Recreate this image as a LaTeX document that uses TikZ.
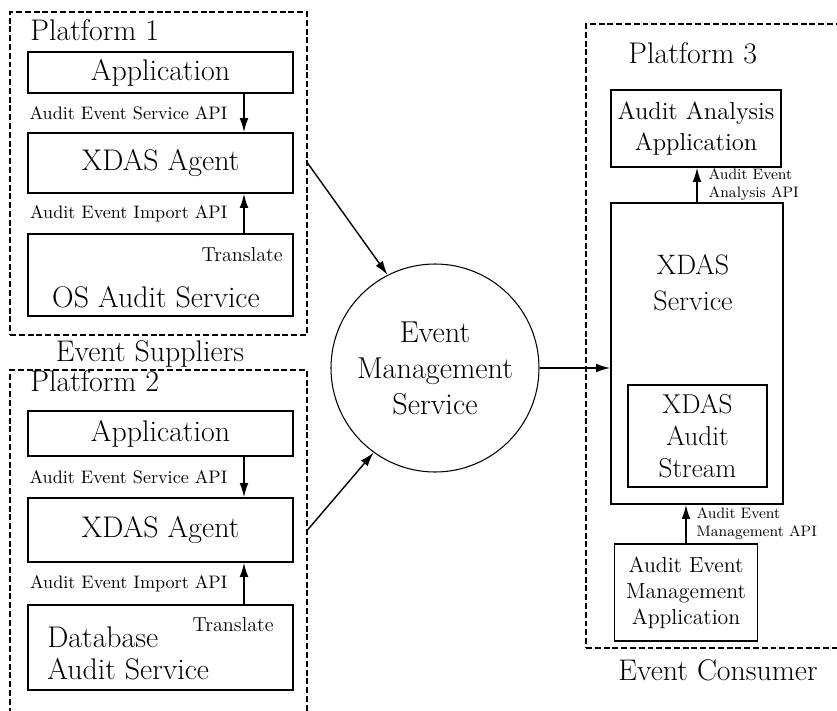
\documentclass[tikz,border=0pt]{standalone}
\usetikzlibrary{arrows.meta}

\newcommand{\bigfont}{\fontsize{17}{20.5}\selectfont}
\newcommand{\midfont}{\fontsize{14}{17.6}\selectfont}
\newcommand{\apifont}{\fontsize{10.3}{12}\selectfont}
\newcommand{\tinyapifont}{\fontsize{8.6}{10.2}\selectfont}
\newcommand{\xlatefont}{\fontsize{11.5}{13}\selectfont}

\begin{document}
\begin{tikzpicture}[
    platform/.style={draw, dash pattern=on 3.4pt off 1.6pt, line width=0.6pt, inner sep=0pt},
    box/.style={draw, line width=1pt, inner sep=0pt, align=center, font=\bigfont},
    title/.style={inner sep=0pt, font=\bigfont},
    api/.style={inner sep=0pt, align=left, font=\apifont},
    flow/.style={-{Latex[length=8pt,width=5pt]}, line width=0.8pt}]

    \clip (0,0) rectangle (16.74,-14.2);

    % dashed platform frames
    \node[platform, minimum width=5.94cm, minimum height=6.46cm] (plat1) at (3.17,-3.47) {};
    \node[platform, minimum width=5.94cm, minimum height=7.2cm] (plat2) at (3.17,-11.0) {};
    \node[platform, minimum width=5.28cm, minimum height=12.48cm] (plat3) at (14.36,-6.72) {};

    \node[title, anchor=base west] (p1name) at (0.6,-0.8) {Platform 1};
    \node[title, anchor=base west] (p2name) at (0.6,-7.82) {Platform 2};
    \node[title, anchor=base west] (p3name) at (12.56,-1.26) {Platform 3};
    \node[title, anchor=base] (suppliers) at (3.0,-7.22) {Event Suppliers};
    \node[title, anchor=base] (consumer) at (14.36,-13.6) {Event Consumer};

    % platform 1
    \node[box, minimum width=5.3cm, minimum height=0.82cm] (app1) at (3.21,-1.45) {Application};
    \node[box, minimum width=5.3cm, minimum height=1.2cm] (agent1) at (3.21,-3.26) {XDAS Agent};
    \node[box, minimum width=5.3cm, minimum height=1.64cm] (os1) at (3.21,-5.5) {};
    \node[title, anchor=base] (os1name) at (3.12,-6.14) {OS Audit Service};
    \node[inner sep=0pt, anchor=east, font=\xlatefont] (xlate1) at (5.66,-5.1) {Translate};

    % platform 2
    \node[box, minimum width=5.3cm, minimum height=0.9cm] (app2) at (3.21,-8.67) {Application};
    \node[box, minimum width=5.3cm, minimum height=1.28cm] (agent2) at (3.21,-10.6) {XDAS Agent};
    \node[box, minimum width=5.3cm, minimum height=1.7cm] (db2) at (3.21,-12.95) {};
    \node[title, anchor=west, align=left, font=\fontsize{17}{18.2}\selectfont] (db2name) at (0.94,-13.06) {Database\\Audit Service};
    \node[inner sep=0pt, anchor=east, font=\xlatefont] (xlate2) at (5.48,-12.5) {Translate};

    % platform 3
    \node[box, minimum width=3.4cm, minimum height=1.54cm, font=\midfont] (ana) at (13.92,-2.57) {Audit Analysis\\Application};
    \node[box, minimum width=3.44cm, minimum height=6.02cm] (svc) at (13.94,-7.07) {};
    \node[title, align=center, font=\fontsize{16}{20.5}\selectfont] (svcname) at (13.86,-5.66) {XDAS\\Service};
    \node[box, minimum width=2.78cm, minimum height=2.04cm, font=\fontsize{15.5}{18}\selectfont] (stream) at (13.95,-8.72) {XDAS\\Audit\\Stream};
    \node[box, minimum width=2.86cm, minimum height=1.94cm, font=\fontsize{12.4}{14.8}\selectfont] (mgmt) at (13.72,-11.85) {Audit Event\\Management\\Application};

    % event service in the middle
    \node[draw, circle, line width=0.6pt, minimum size=4.16cm, align=center, font=\fontsize{17.2}{20.5}\selectfont] (ems) at (8.7,-7.36) {Event\\Management\\Service};

    % interfaces
    \draw[flow] ([xshift=1.67cm]app1.south) -- node[api, left=0.32cm] (svcapi1) {Audit Event Service API} ([xshift=1.67cm]agent1.north);
    \draw[flow] ([xshift=1.67cm]os1.north) -- node[api, left=0.32cm] (impapi1) {Audit Event Import API} ([xshift=1.67cm]agent1.south);
    \draw[flow] ([xshift=1.67cm]app2.south) -- node[api, left=0.32cm] (svcapi2) {Audit Event Service API} ([xshift=1.67cm]agent2.north);
    \draw[flow] ([xshift=1.67cm]db2.north) -- node[api, left=0.32cm] (impapi2) {Audit Event Import API} ([xshift=1.67cm]agent2.south);
    \draw[flow] (svc.north) -- node[api, right=0.22cm, font=\tinyapifont] (anaapi) {Audit Event\\Analysis API} (svc.north |- ana.south);
    \draw[flow] (mgmt.north) -- node[api, right=0.2cm, font=\tinyapifont] (mgmtapi) {Audit Event\\Management API} (mgmt.north |- svc.south);

    % event flow
    \draw[flow] (agent1 -| plat1.east) -- (ems.117);
    \draw[flow] (agent2 -| plat2.east) -- (ems.234);
    \draw[flow] (ems.east) -- (ems.east -| svc.west);
\end{tikzpicture}
\end{document}
